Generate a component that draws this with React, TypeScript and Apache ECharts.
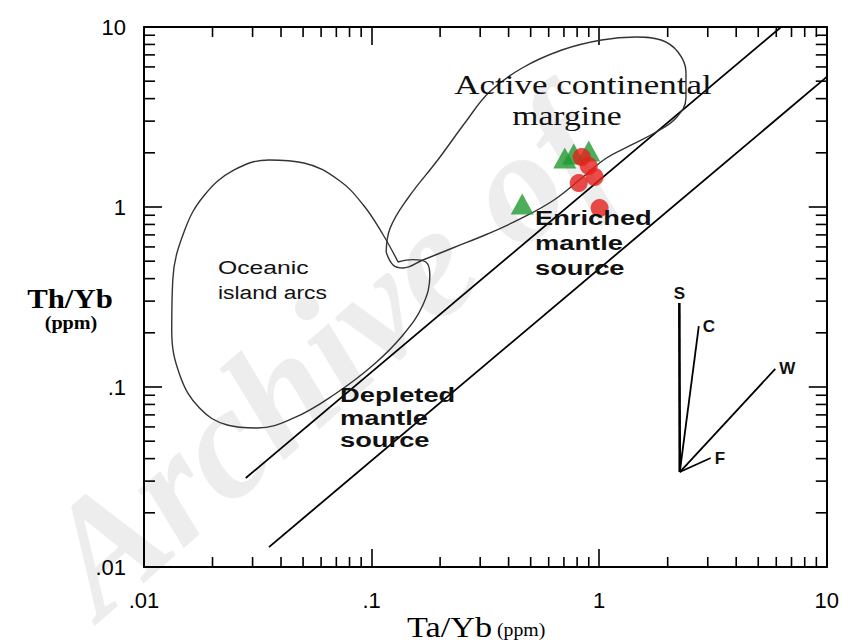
import React, { useEffect, useRef } from 'react';
import * as echarts from 'echarts';

// ---- axis tick labels ----
const tickLabels = ['.01', '.1', '1', '10'];
const minorTickValues = [
  0.02, 0.03, 0.04, 0.05, 0.06, 0.07, 0.08, 0.09,
  0.2, 0.3, 0.4, 0.5, 0.6, 0.7, 0.8, 0.9,
  2, 3, 4, 5, 6, 7, 8, 9,
];

// ---- mantle array boundary lines [Ta/Yb, Th/Yb] ----
const upperArrayLine = [[0.028, 0.0312], [6.3, 10]];
const lowerArrayLine = [[0.0354, 0.0129], [10, 5.28]];

// ---- Oceanic island arcs field ----
const oceanicArcsTa = [0.1307, 0.1125, 0.092, 0.0716, 0.0504, 0.0354, 0.0249, 0.01845, 0.0151, 0.01338, 0.01324, 0.01436, 0.01754, 0.02324, 0.03142, 0.04555, 0.0681, 0.1017, 0.1374, 0.168, 0.1803, 0.1732, 0.152, 0.1307];
const oceanicArcsTh = [0.495, 0.699, 1.026, 1.413, 1.756, 1.824, 1.606, 1.166, 0.745, 0.393, 0.2074, 0.1166, 0.0764, 0.0615, 0.0592, 0.0673, 0.0903, 0.1325, 0.1945, 0.2855, 0.419, 0.495, 0.51, 0.495];

// ---- Active continental margin field ----
const activeMarginTa = [0.1159, 0.1207, 0.1446, 0.1953, 0.2588, 0.3294, 0.4587, 0.6855, 1.024, 1.456, 1.871, 2.22, 2.406, 2.406, 2.176, 1.78, 1.385, 1.077, 0.838, 0.633, 0.4587, 0.3228, 0.2272, 0.168, 0.1374, 0.1243, 0.1159];
const activeMarginTh = [0.5623, 0.7644, 1.122, 1.824, 2.966, 4.355, 5.919, 7.45, 8.47, 8.8, 8.47, 7.26, 5.62, 4.032, 3.122, 2.61, 2.211, 1.872, 1.449, 1.094, 0.869, 0.708, 0.592, 0.5076, 0.4583, 0.4762, 0.5623];

// ---- vectors (S, C, W, F) ----
const vectorOrigin = [2.26, 0.0337];
const vectorNames = ['S', 'C', 'W', 'F'];
const vectorEndTa = [2.25, 2.74, 5.94, 3.09];
const vectorEndTh = [0.293, 0.218, 0.126, 0.0403];
const vectorLabelPos = ['top', 'right', 'right', 'right'];

// ---- samples ----
const greenTa = [0.459, 0.706, 0.773, 0.9];
const greenTh = [1.04, 1.872, 1.97, 2.05];
const redTa = [0.838, 0.9, 0.813, 0.955, 1.004];
const redTh = [1.896, 1.69, 1.36, 1.47, 0.987];

const watermarkText = 'Archive of';

const zip = (a: number[], b: number[]) => a.map((v, i) => [v, b[i]]);

const axisBase = {
  type: 'log',
  logBase: 10,
  min: 0.01,
  max: 10,
  splitLine: { show: false },
  axisLine: { show: true, onZero: false, lineStyle: { color: '#000', width: 2 } },
  axisTick: { show: true, inside: true, length: 18, lineStyle: { color: '#000', width: 1.6 } },
  minorTick: { show: false },
};

const labelFormatter = (v: number) => {
  const idx = Math.round(Math.log10(v)) + 2;
  return tickLabels[idx] ?? '';
};

const SANS = '"Liberation Sans", Arial, sans-serif';
const SERIF = '"Liberation Serif", "Times New Roman", serif';

function txt(text: string, x: number, y: number, font: string, align = 'left', scaleX = 1, fill = '#111') {
  return {
    type: 'text',
    x,
    y,
    scaleX,
    z: 50,
    style: {
      text,
      font,
      fill,
      align,
      textAlign: align,
      verticalAlign: 'middle',
      textVerticalAlign: 'middle',
    },
  };
}

function watermark() {
  const font = 'italic bold 160px ' + SERIF;
  const ctx = document.createElement('canvas').getContext('2d');
  if (ctx) ctx.font = font;
  let offset = 0;
  const children: any[] = [];
  for (const ch of watermarkText) {
    const w = ctx ? ctx.measureText(ch).width : 80;
    if (ch !== ' ') {
      children.push({
        type: 'text',
        x: offset,
        y: 0,
        silent: true,
        style: {
          text: ch,
          font,
          lineHeight: 120,
          fill: 'rgba(195,195,195,0.3)',
          align: 'left',
          textAlign: 'left',
          verticalAlign: 'bottom',
          textVerticalAlign: 'bottom',
        },
      });
    }
    offset += w;
  }
  return { type: 'group', x: 105, y: 625, rotation: 0.72, z: -10, silent: true, children };
}

export default function App() {
  const ref = useRef<HTMLDivElement>(null);

  useEffect(() => {
    if (!ref.current) return;
    const chart = echarts.init(ref.current, null, { renderer: 'svg' });

    const vectorSeries = vectorNames.map((name, i) => ({
      type: 'line',
      name: 'vec' + name,
      xAxisIndex: 0,
      yAxisIndex: 0,
      showSymbol: true,
      symbol: 'circle',
      symbolSize: 0.1,
      lineStyle: { color: '#000', width: name === 'S' ? 2.6 : 1.8 },
      itemStyle: { color: '#000' },
      data: [
        { value: vectorOrigin, label: { show: false } },
        {
          value: [vectorEndTa[i], vectorEndTh[i]],
          label: {
            show: true,
            formatter: name,
            position: vectorLabelPos[i],
            distance: name === 'S' ? 1 : 4,
            color: '#111',
            fontSize: 17,
            fontWeight: 'bold',
            fontFamily: SANS,
          },
        },
      ],
      z: 3,
    }));

    const option = {
      animation: false,
      backgroundColor: '#fff',
      grid: { left: 144, top: 27, width: 688, height: 540 },
      xAxis: [
        {
          ...axisBase,
          position: 'bottom',
          axisLabel: {
            show: true,
            formatter: labelFormatter,
            fontSize: 22,
            fontFamily: SANS,
            color: '#000',
            margin: 22,
          },
        },
        { ...axisBase, position: 'top', axisLabel: { show: false } },
      ],
      yAxis: [
        {
          ...axisBase,
          position: 'left',
          axisLabel: {
            show: true,
            formatter: labelFormatter,
            fontSize: 22,
            fontFamily: SANS,
            color: '#000',
            margin: 18,
          },
        },
        { ...axisBase, position: 'right', axisLabel: { show: false } },
      ],
      graphic: [
        watermark(),
        txt('Th/Yb', 70, 298, 'bold 28px ' + SERIF, 'center', 1.1, '#000'),
        txt('(ppm)', 71, 323, 'bold 18px ' + SERIF, 'center', 1.12, '#000'),
        txt('Ta/Yb', 492, 627, '29px ' + SERIF, 'right', 1.18, '#000'),
        txt('(ppm)', 497, 630, '18px ' + SERIF, 'left', 1.1, '#000'),
        txt('Active continental', 583, 85, '28px ' + SERIF, 'center', 1.25, '#111'),
        txt('margine', 567, 115, '28px ' + SERIF, 'center', 1.2, '#111'),
        txt('Enriched', 535, 218, 'bold 21px ' + SANS, 'left', 1.3),
        txt('mantle', 535, 243, 'bold 21px ' + SANS, 'left', 1.3),
        txt('source', 535, 268, 'bold 21px ' + SANS, 'left', 1.3),
        txt('Oceanic', 218, 268, '19px ' + SANS, 'left', 1.3),
        txt('island arcs', 218, 292, '19px ' + SANS, 'left', 1.2),
        txt('Depleted', 340, 395, 'bold 21px ' + SANS, 'left', 1.3),
        txt('mantle', 340, 418, 'bold 21px ' + SANS, 'left', 1.3),
        txt('source', 340, 440, 'bold 21px ' + SANS, 'left', 1.3),
      ],
      series: [
        {
          type: 'custom',
          name: 'xMinor',
          xAxisIndex: 0,
          yAxisIndex: 0,
          clip: false,
          silent: true,
          data: minorTickValues.map((v) => [v, 1]),
          renderItem: (_p: any, api: any) => {
            const v = api.value(0);
            const b = api.coord([v, 0.01]);
            const t = api.coord([v, 10]);
            const st = { stroke: '#000', lineWidth: 1.6 };
            return {
              type: 'group',
              children: [
                { type: 'line', shape: { x1: b[0], y1: b[1], x2: b[0], y2: b[1] - 10 }, style: st },
                { type: 'line', shape: { x1: t[0], y1: t[1], x2: t[0], y2: t[1] + 10 }, style: st },
              ],
            };
          },
        },
        {
          type: 'custom',
          name: 'yMinor',
          xAxisIndex: 0,
          yAxisIndex: 0,
          clip: false,
          silent: true,
          data: minorTickValues.map((v) => [1, v]),
          renderItem: (_p: any, api: any) => {
            const v = api.value(1);
            const l = api.coord([0.01, v]);
            const r = api.coord([10, v]);
            const st = { stroke: '#000', lineWidth: 1.6 };
            return {
              type: 'group',
              children: [
                { type: 'line', shape: { x1: l[0], y1: l[1], x2: l[0] + 11, y2: l[1] }, style: st },
                { type: 'line', shape: { x1: r[0], y1: r[1], x2: r[0] - 11, y2: r[1] }, style: st },
              ],
            };
          },
        },
        {
          type: 'line',
          name: 'upper',
          data: upperArrayLine,
          showSymbol: false,
          lineStyle: { color: '#000', width: 1.8 },
        },
        {
          type: 'line',
          name: 'lower',
          data: lowerArrayLine,
          showSymbol: false,
          lineStyle: { color: '#000', width: 1.8 },
        },
        {
          type: 'line',
          name: 'Oceanic island arcs',
          data: zip(oceanicArcsTa, oceanicArcsTh),
          smooth: 0.4,
          showSymbol: false,
          lineStyle: { color: '#333', width: 1.4 },
        },
        {
          type: 'line',
          name: 'Active continental margin',
          data: zip(activeMarginTa, activeMarginTh),
          smooth: 0.4,
          showSymbol: false,
          lineStyle: { color: '#333', width: 1.4 },
        },
        ...vectorSeries,
        {
          type: 'scatter',
          name: 'green',
          data: zip(greenTa, greenTh),
          symbol: 'triangle',
          symbolSize: [23, 21],
          itemStyle: { color: '#1f9a30' },
          z: 4,
        },
        {
          type: 'scatter',
          name: 'red',
          data: zip(redTa, redTh),
          symbol: 'circle',
          symbolSize: 18,
          itemStyle: { color: '#e5201b' },
          z: 5,
        },
      ],
    };

    chart.setOption(option as any);
    return () => chart.dispose();
  }, []);

  return (
    <div
      ref={ref}
      style={{ position: 'fixed', left: 0, top: 0, width: 842, height: 642, background: '#fff' }}
    />
  );
}
